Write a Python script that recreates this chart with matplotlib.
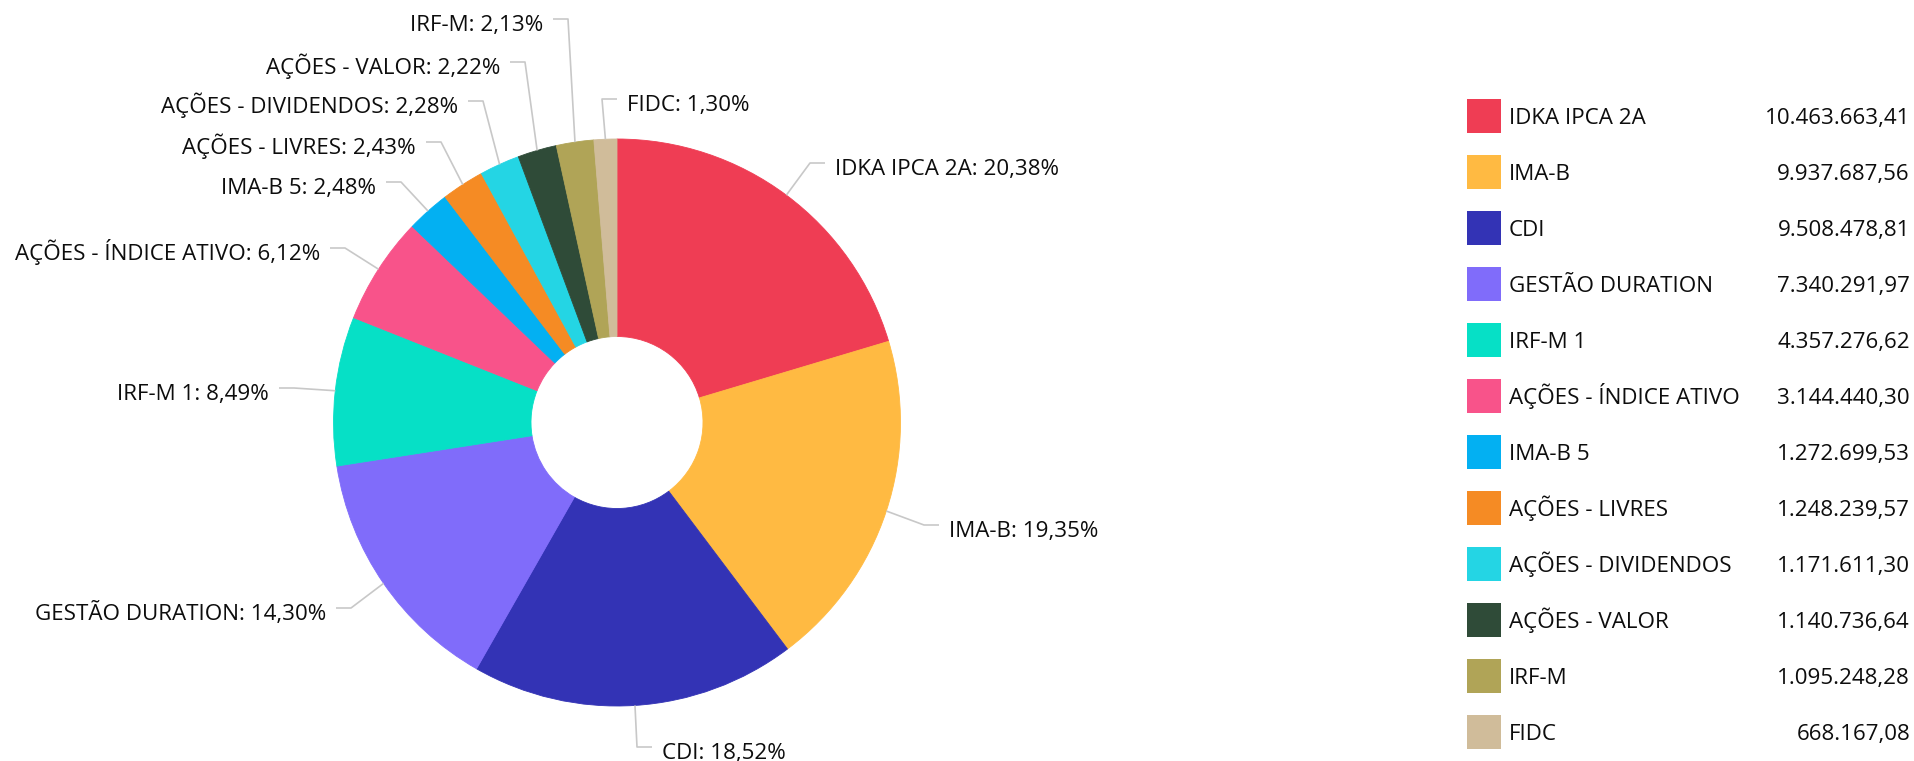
import matplotlib
matplotlib.use("Agg")
import matplotlib.pyplot as plt
from matplotlib.patches import Rectangle
import numpy as np

# ---------------- data ----------------
categories = ["IDKA IPCA 2A", "IMA-B", "CDI", "GESTÃO DURATION", "IRF-M 1",
              "AÇÕES - ÍNDICE ATIVO", "IMA-B 5", "AÇÕES - LIVRES",
              "AÇÕES - DIVIDENDOS", "AÇÕES - VALOR", "IRF-M", "FIDC"]
values = [10463663.41, 9937687.56, 9508478.81, 7340291.97, 4357276.62,
          3144440.30, 1272699.53, 1248239.57, 1171611.30, 1140736.64,
          1095248.28, 668167.08]
colors = ["#EF3D54", "#FFBA42", "#3333B5", "#806CFA", "#06E0C6", "#F8538A",
          "#03B0F2", "#F58B24", "#24D5E4", "#2F4B38", "#B0A457", "#D0BC9A"]

# ---------------- layout (pixels, top-down) ----------------
W, H = 1914, 761
CX, CY = 617, 422.5
R_OUT = 283.5
R_IN = 86
# text anchor x, leader-line y, direction (+1 text right of line, -1 left)
label_layout = [(835, 163, 1), (949, 525, 1), (662, 747, 1), (326, 608, -1),
                (269, 388, -1), (320, 248, -1), (376, 182, -1), (416, 142, -1),
                (458, 101, -1), (500, 62, -1), (543, 19, -1), (627, 99, 1)]
GAP, HLEN = 10, 15
LEG_SQ_X, LEG_SQ = 1467, 34
LEG_TEXT_X, LEG_VAL_X = 1509, 1910
LEG_Y0, LEG_DY = 116, 56

FONT = ["Open Sans", "DejaVu Sans"]
FS = 16.1
TXT = "#0d0d0d"
LINE = "#C8C8C8"

plt.rcParams["font.family"] = FONT


def fy(py):
    return H - py


def br_num(v):
    s = f"{v:,.2f}"
    return s.replace(",", "X").replace(".", ",").replace("X", ".")


fig = plt.figure(figsize=(W / 100, H / 100), dpi=100)
ax = fig.add_axes([0, 0, 1, 1])

wedges, _ = ax.pie(values, colors=colors, startangle=90, counterclock=False,
                   radius=R_OUT, center=(CX, fy(CY)),
                   wedgeprops=dict(width=R_OUT - R_IN, linewidth=0.6))
for w in wedges:
    w.set_edgecolor(w.get_facecolor())
ax.set_aspect("auto")
ax.set_xlim(0, W)
ax.set_ylim(0, H)
ax.axis("off")

total = sum(values)
for w, name, v, (tx, ly, d) in zip(wedges, categories, values, label_layout):
    mid = np.deg2rad((w.theta1 + w.theta2) / 2)
    px = CX + R_OUT * np.cos(mid)
    py = fy(CY) + R_OUT * np.sin(mid)
    hx = tx - d * GAP
    ex = hx - d * HLEN
    ax.plot([px, ex, hx], [py, fy(ly), fy(ly)], color=LINE, lw=1.2,
            solid_capstyle="butt", zorder=1)
    pct = f"{100 * v / total:.2f}".replace(".", ",")
    ax.text(tx, fy(ly + 12), f"{name}: {pct}%", ha="left" if d > 0 else "right",
            va="baseline", fontsize=FS, color=TXT)

# ---------------- legend ----------------
for i, (name, v, c) in enumerate(zip(categories, values, colors)):
    yc = LEG_Y0 + i * LEG_DY
    ax.add_patch(Rectangle((LEG_SQ_X, fy(yc + LEG_SQ / 2)), LEG_SQ, LEG_SQ,
                           facecolor=c, edgecolor="none"))
    ax.text(LEG_TEXT_X, fy(yc + 8), name, ha="left", va="baseline",
            fontsize=FS, color=TXT)
    ax.text(LEG_VAL_X, fy(yc + 8), br_num(v), ha="right", va="baseline",
            fontsize=FS, color=TXT)

fig.savefig("out.png", dpi=100, facecolor="white")
